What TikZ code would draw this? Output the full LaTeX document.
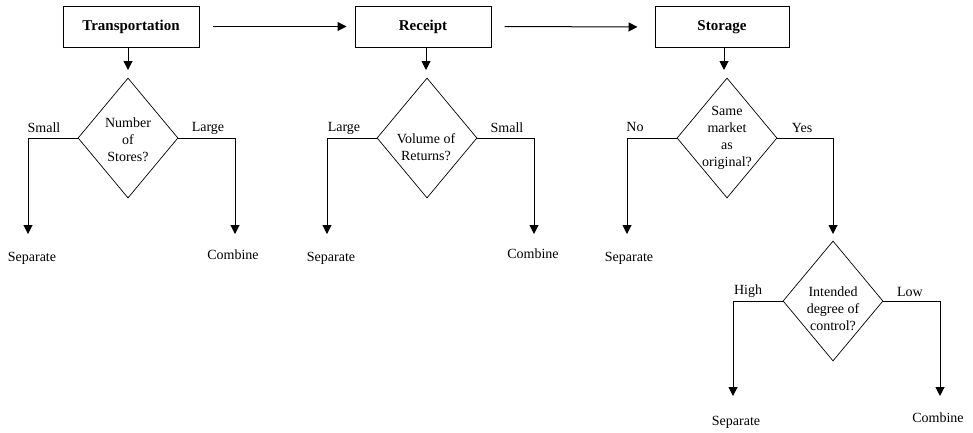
\documentclass[tikz,border=0pt]{standalone}
\usepackage{fontspec}
\setmainfont{Liberation Serif}
\usetikzlibrary{arrows.meta,shapes.geometric}
\begin{document}
\begin{tikzpicture}[x=1pt,y=-1pt,
  every node/.style={font=\fontsize{14}{17}\selectfont},
  stagebox/.style={draw,line width=1pt,minimum width=136pt,minimum height=41pt,inner sep=0pt,font=\fontsize{15}{18}\selectfont\bfseries},
  decision/.style={draw,diamond,line width=0.7pt,minimum width=100pt,minimum height=120pt,inner sep=0pt},
  qtext/.style={align=center,inner sep=0pt},
  flow/.style={line width=1pt,-{Triangle[width=9pt,length=9pt]}},
]
\useasboundingbox (0,0) rectangle (973,432);

% stages along the top
\node[stagebox] (trans) at (131,26.5) {Transportation};
\node[stagebox] (rec) at (423,26.5) {Receipt};
\node[stagebox,minimum width=134pt] (stor) at (722,27) {Storage};

\draw[flow,shorten <=13pt,shorten >=8pt] (trans.east) -- (rec.west);
\draw[flow,shorten <=13pt,shorten >=17pt] (rec.east) -- (stor.west);

% decisions
\node[decision] (d1) at (128,138) {};
\node[decision] (d2) at (427,138) {};
\node[decision] (d3) at (727,138) {};
\node[decision] (d4) at (833,301) {};

\node[qtext] (q1) at (128,140) {Number\\of\\Stores?};
\node[qtext] (q2) at (426,147) {Volume of\\Returns?};
\node[qtext] (q3) at (727,138) {Same\\market\\as\\original?};
\node[qtext] (q4) at (833,309) {Intended\\degree of\\control?};

% arrow ends
\coordinate (a1) at (128,70);
\coordinate (a2) at (426,70);
\coordinate (a3) at (724,70);
\coordinate (e1l) at (28,234);
\coordinate (e1r) at (235,234);
\coordinate (e2l) at (327,234);
\coordinate (e2r) at (534,234);
\coordinate (e3l) at (627,234);
\coordinate (e3r) at (833,234);
\coordinate (e4l) at (733,396);
\coordinate (e4r) at (940,396);

\draw[flow] (trans.south -| a1) -- (a1);
\draw[flow] (rec.south -| a2) -- (a2);
\draw[flow] (stor.south -| a3) -- (a3);

\draw[flow] (d1.west) -| (e1l);
\draw[flow] (d1.east) -| (e1r);
\draw[flow] (d2.west) -| (e2l);
\draw[flow] (d2.east) -| (e2r);
\draw[flow] (d3.west) -| (e3l);
\draw[flow] (d3.east) -| (e3r);
\draw[flow] (d4.west) -| (e4l);
\draw[flow] (d4.east) -| (e4r);

% branch labels
\node (l1a) at (44,128) {Small};
\node (l1b) at (208,128) {Large};
\node (l2a) at (344,128) {Large};
\node (l2b) at (507,128) {Small};
\node (l3a) at (635,127) {No};
\node (l3b) at (802,128) {Yes};
\node (l4a) at (748,291) {High};
\node (l4b) at (910,292) {Low};

% outcomes
\node (o1a) at (32,258) {Separate};
\node (o1b) at (233,255) {Combine};
\node (o2a) at (331,258) {Separate};
\node (o2b) at (533,254) {Combine};
\node (o3a) at (629,258) {Separate};
\node (o4a) at (736,422) {Separate};
\node (o4b) at (938,418) {Combine};
\end{tikzpicture}
\end{document}
